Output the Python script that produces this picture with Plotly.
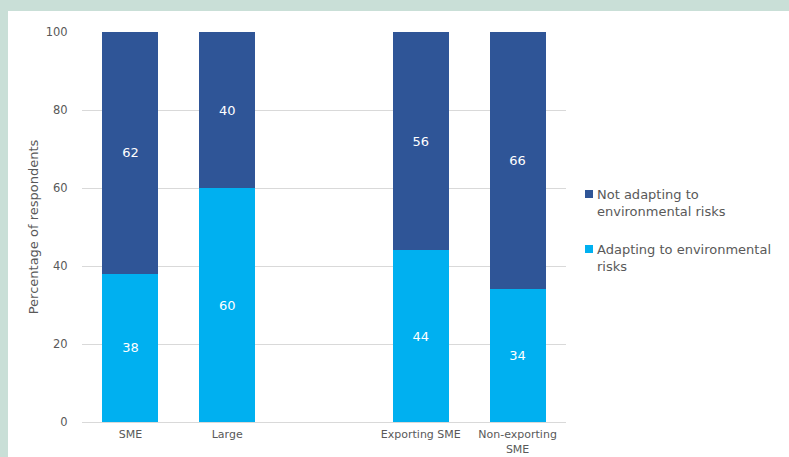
import plotly.graph_objects as go

# Firm groups (position 2 is a deliberate gap between the two groupings)
positions = [0, 1, 3, 4]
group_labels = ["SME", "Large", "Exporting SME", "Non-exporting<br>SME"]
adapting = [38, 60, 44, 34]
not_adapting = [62, 40, 56, 66]

series_names = ["Adapting to environmental risks", "Not adapting to environmental risks"]
legend_texts = ["Adapting to environmental<br>risks", "Not adapting to<br>environmental risks"]

DARK = "#2f5597"
LIGHT = "#00b0f0"
FRAME = "#c9dfd7"
GREY = "#595959"
FONT = "DejaVu Sans, Verdana, sans-serif"

W, H = 789, 457
ML, MR, MT, MB = 82, 223, 32, 35
pw, ph = W - ML - MR, H - MT - MB


def px_x(p):
    return (p - ML) / pw


def px_y(p):
    return 1 - (p - MT) / ph


fig = go.Figure()
for vals, name, color in [(adapting, series_names[0], LIGHT),
                          (not_adapting, series_names[1], DARK)]:
    fig.add_trace(go.Bar(
        x=positions, y=vals, name=name,
        marker=dict(color=color, line=dict(width=0)),
        text=[str(v) for v in vals], textposition="inside",
        insidetextanchor="middle",
        textfont=dict(color="white", size=13, family=FONT),
        width=0.58, showlegend=False,
    ))

# frame: tinted strips along the top and left edges
fig.add_shape(type="rect", xref="paper", yref="paper",
              x0=px_x(-20), x1=px_x(W + 20), y0=px_y(11), y1=px_y(-20),
              fillcolor=FRAME, line_width=0, layer="below")
fig.add_shape(type="rect", xref="paper", yref="paper",
              x0=px_x(-20), x1=px_x(8), y0=px_y(H + 20), y1=px_y(-20),
              fillcolor=FRAME, line_width=0, layer="below")

# legend: small colour squares with wrapped labels beside them
legend_rows = [(DARK, legend_texts[1], 194), (LIGHT, legend_texts[0], 249)]
for color, label, top in legend_rows:
    fig.add_shape(type="rect", xref="paper", yref="paper",
                  x0=px_x(585), x1=px_x(593), y0=px_y(top - 4), y1=px_y(top + 4),
                  fillcolor=color, line_width=0)
    fig.add_annotation(xref="paper", yref="paper",
                       x=px_x(595), y=px_y(top - 9), xanchor="left", yanchor="top",
                       text=label, showarrow=False, align="left",
                       font=dict(size=13, color=GREY, family=FONT))

fig.update_layout(
    width=W, height=H,
    margin=dict(l=ML, r=MR, t=MT, b=MB, autoexpand=False),
    barmode="stack",
    paper_bgcolor="white", plot_bgcolor="white",
    font=dict(family=FONT, color=GREY, size=11),
    showlegend=False,
    xaxis=dict(
        range=[-0.5, 4.5], automargin=False,
        tickmode="array", tickvals=positions, ticktext=group_labels,
        showgrid=False, zeroline=False,
        showline=True, linecolor="#d9d9d9", linewidth=1,
        ticks="outside", ticklen=2, tickcolor="rgba(0,0,0,0)",
        tickfont=dict(size=11, color=GREY),
    ),
    yaxis=dict(
        range=[0, 100], dtick=20, automargin=False,
        showgrid=True, gridcolor="#d9d9d9", gridwidth=1,
        zeroline=False, showline=False,
        ticks="outside", ticklen=11, tickcolor="rgba(0,0,0,0)",
        tickfont=dict(size=11.5, color=GREY),
        title=dict(text="Percentage of respondents", font=dict(size=13, color=GREY), standoff=4),
    ),
)

fig.write_html("out.html")
